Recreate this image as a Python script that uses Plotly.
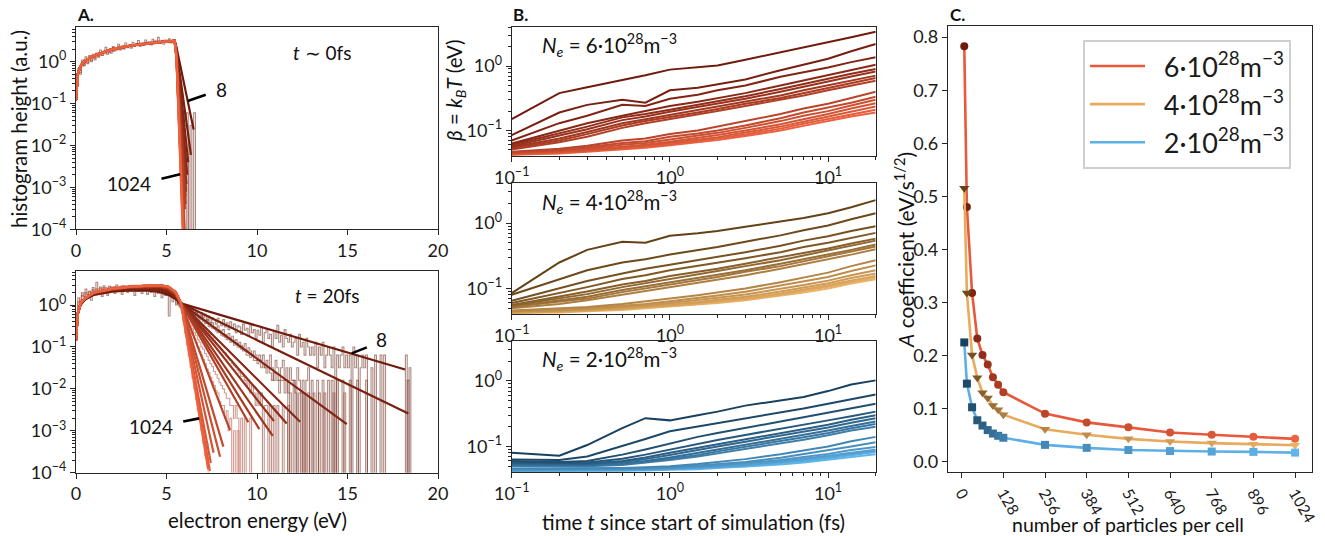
import plotly.graph_objects as go

FONT = "Lato"
W, H = 1325, 536

# ------------------------------------------------------------------ data
N_particles = [8, 16, 32, 48, 64, 80, 96, 112, 128, 256, 384, 512, 640, 768, 896, 1024]

# ---- Panel A : histograms (bin width 0.1 eV), values per bin, 0 = empty bin
BIN = 0.1
hist_t0_8 = [0.35, 0.7, 0.5, 1.1, 0.8, 1.3, 0.9, 1.4, 1.0, 1.5,
             1.1, 1.6, 1.3, 1.9, 1.4, 1.7, 2.2, 1.5, 1.9, 1.6,
             2.3, 1.8, 2.1, 2.6, 1.9, 2.4, 2.0, 2.8, 2.2, 2.5,
             2.1, 2.9, 2.4, 2.7, 3.2, 2.3, 2.8, 2.5, 3.3, 2.6,
             3.0, 2.5, 3.4, 2.7, 3.1, 3.8, 2.8, 3.2, 2.6, 3.3,
             3.0, 3.5, 2.8, 3.2, 2.6, 1.6, 0.7, 0.3, 0.12, 0.06,
             0.03, 0.06, 0.0, 0.03, 0.0, 0.06]
hist_t0_64 = [0.3, 0.6, 0.55, 0.9, 0.8, 1.05, 0.95, 1.2, 1.05, 1.3,
              1.2, 1.45, 1.3, 1.55, 1.4, 1.7, 1.55, 1.8, 1.65, 1.9,
              1.75, 2.0, 1.9, 2.15, 1.95, 2.3, 2.05, 2.35, 2.15, 2.5,
              2.25, 2.55, 2.35, 2.7, 2.4, 2.75, 2.5, 2.85, 2.55, 2.9,
              2.65, 3.0, 2.7, 3.1, 2.8, 3.15, 2.85, 3.25, 2.9, 3.2,
              3.0, 3.3, 3.0, 3.2, 2.9, 1.8, 0.45, 0.08, 0.012, 0.004,
              0.0, 0.004, 0.0]
hist_t0_1024 = [0.28, 0.5, 0.62, 0.78, 0.85, 0.97, 1.0, 1.12, 1.1, 1.22,
                1.25, 1.32, 1.36, 1.45, 1.48, 1.56, 1.6, 1.66, 1.7, 1.76,
                1.85, 1.86, 1.95, 2.0, 2.02, 2.1, 2.12, 2.2, 2.18, 2.3,
                2.3, 2.38, 2.36, 2.45, 2.5, 2.48, 2.56, 2.6, 2.62, 2.7,
                2.72, 2.75, 2.8, 2.85, 2.82, 2.9, 2.95, 2.92, 3.0, 3.02,
                3.05, 3.08, 3.1, 3.12, 3.1, 2.2, 0.5, 0.04, 0.002, 0.0003]

hist_t20_8 = [0.5, 1.5, 1.1, 2.0, 1.4, 2.4, 1.6, 2.1, 1.3, 2.6,
              1.8, 3.5, 2.0, 2.7, 1.6, 2.9, 2.2, 1.7, 2.8, 2.1,
              2.6, 1.9, 3.0, 2.2, 2.5, 1.8, 2.9, 2.3, 2.0, 2.7,
              2.2, 2.9, 1.7, 2.5, 2.1, 2.8, 1.9, 2.4, 2.6, 1.8,
              2.5, 2.0, 2.7, 1.6, 2.3, 1.9, 2.4, 1.5, 2.1, 1.7,
              1.9, 0.55, 1.6, 1.2, 1.5, 1.0, 1.3, 0.9, 1.1, 0.8,
              0.95, 0.7, 0.85, 0.6, 0.8, 0.55, 0.7, 0.6, 0.5, 0.65,
              0.5, 0.6, 0.42, 0.55, 0.38, 0.5, 0.45, 0.35, 0.48, 0.4,
              0.32, 0.45, 0.3, 0.38, 0.26, 0.4, 0.29, 0.35, 0.22, 0.32,
              0.3, 0.2, 0.35, 0.25, 0.28, 0.18, 0.32, 0.22, 0.26, 0.16,
              0.25, 0.19, 0.3, 0.13, 0.22, 0.26, 0.16, 0.2, 0.1, 0.24,
              0.16, 0.33, 0.13, 0.19, 0.1, 0.26, 0.16, 0.13, 0.2, 0.1,
              0.13, 0.16, 0.064, 0.2, 0.1, 0.13, 0.064, 0.16, 0.1, 0.064,
              0.1, 0.064, 0.13, 0.032, 0.1, 0.064, 0.13, 0.032, 0.064, 0.1,
              0.064, 0.032, 0.1, 0.0, 0.064, 0.032, 0.064, 0.1, 0.032, 0.064,
              0.032, 0.064, 0.0, 0.1, 0.032, 0.064, 0.0, 0.032, 0.064, 0.032,
              0.064, 0.0, 0.0, 0.032, 0.0, 0.064, 0.0, 0.0, 0.064, 0.0,
              0.064, 0.0, 0.0, 0.0, 0.0, 0.0, 0.0, 0.0, 0.0, 0.0,
              0.0, 0.0, 0.064, 0.0, 0.032]
TAIL_START = 5.5
hist_t20_16 = [1.3, 1.1, 1.2, 0.95, 1.0, 0.85, 0.9, 0.75, 0.8, 0.7,
               0.62, 0.66, 0.55, 0.5, 0.56, 0.45, 0.42, 0.46, 0.37, 0.35,
               0.38, 0.3, 0.29, 0.32, 0.25, 0.24, 0.26, 0.2, 0.19, 0.21,
               0.16, 0.18, 0.14, 0.15, 0.12, 0.13, 0.11, 0.1, 0.12, 0.08,
               0.096, 0.08, 0.064, 0.08, 0.064, 0.048, 0.064, 0.048, 0.064, 0.032,
               0.048, 0.032, 0.064, 0.032, 0.016, 0.048, 0.032, 0.016, 0.032, 0.048,
               0.016, 0.032, 0.0, 0.032, 0.016, 0.016, 0.0, 0.032, 0.016, 0.0,
               0.016, 0.0, 0.016, 0.032, 0.0, 0.016, 0.0, 0.0, 0.016, 0.0,
               0.0, 0.016, 0.0, 0.0, 0.016, 0.0, 0.016, 0.0, 0.0, 0.016,
               0.0, 0.0, 0.016, 0.0, 0.0, 0.0, 0.016, 0.0, 0.0, 0.0,
               0.016, 0.0, 0.0, 0.0, 0.0, 0.016, 0.0, 0.0, 0.0, 0.0,
               0.0, 0.0, 0.0, 0.0, 0.0, 0.0, 0.0, 0.0, 0.0, 0.0,
               0.0, 0.0, 0.0, 0.0, 0.0, 0.0, 0.0, 0.0, 0.016, 0.0]
hist_t20_32 = [1.25, 1.05, 1.1, 0.9, 0.95, 0.8, 0.78, 0.7, 0.66, 0.6,
               0.58, 0.52, 0.5, 0.44, 0.46, 0.4, 0.36, 0.37, 0.31, 0.3,
               0.28, 0.27, 0.24, 0.22, 0.23, 0.19, 0.18, 0.17, 0.15, 0.16,
               0.13, 0.14, 0.11, 0.12, 0.1, 0.096, 0.088, 0.08, 0.08, 0.064,
               0.064, 0.056, 0.064, 0.048, 0.048, 0.04, 0.048, 0.032, 0.04, 0.032,
               0.024, 0.032, 0.024, 0.016, 0.024, 0.024, 0.016, 0.008, 0.016, 0.016,
               0.008, 0.016, 0.008, 0.008, 0.0, 0.016, 0.008, 0.0, 0.008, 0.008,
               0.0, 0.008, 0.0, 0.008, 0.0, 0.0, 0.008, 0.0, 0.0, 0.008,
               0.0, 0.0, 0.008, 0.0, 0.0, 0.0, 0.0, 0.008, 0.0, 0.0,
               0.0, 0.0, 0.0, 0.008, 0.0, 0.0, 0.0, 0.0, 0.0, 0.0]
hist_t20_64 = [0.45, 1.2, 1.3, 1.7, 1.6, 2.0, 1.8, 2.1, 2.0, 2.3,
               2.1, 2.4, 2.2, 2.5, 2.3, 2.6, 2.35, 2.55, 2.4, 2.7,
               2.45, 2.75, 2.5, 2.7, 2.55, 2.85, 2.6, 2.8, 2.5, 2.9,
               2.6, 2.85, 2.55, 2.9, 2.65, 2.8, 2.6, 2.95, 2.7, 2.85,
               2.6, 2.9, 2.7, 2.8, 2.55, 2.85, 2.6, 2.7, 2.4, 2.5,
               2.2, 2.3, 1.9, 1.8, 1.5, 1.3, 1.1, 0.95, 0.9, 0.85,
               0.8, 0.7, 0.65, 0.55, 0.5, 0.45, 0.42, 0.36, 0.33, 0.3,
               0.27, 0.24, 0.22, 0.2, 0.17, 0.16, 0.14, 0.12, 0.11, 0.1,
               0.088, 0.076, 0.072, 0.06, 0.052, 0.048, 0.04, 0.036, 0.032, 0.028,
               0.024, 0.02, 0.02, 0.016, 0.012, 0.016, 0.008, 0.012, 0.008, 0.004,
               0.008, 0.004, 0.008, 0.0, 0.004, 0.004, 0.0, 0.004, 0.0, 0.004,
               0.0, 0.004, 0.0, 0.0, 0.004, 0.0, 0.0, 0.004, 0.0, 0.0]
hist_t20_128 = [1.45, 1.2, 1.0, 0.84, 0.7, 0.58, 0.48, 0.4, 0.33, 0.27,
                0.22, 0.19, 0.15, 0.13, 0.1, 0.088, 0.07, 0.06, 0.048, 0.04,
                0.034, 0.026, 0.022, 0.018, 0.014, 0.012, 0.01, 0.008, 0.006, 0.006,
                0.004, 0.004, 0.002, 0.004, 0.002, 0.0, 0.002, 0.0, 0.002, 0.0,
                0.0, 0.002, 0.0, 0.0, 0.0]
hist_t20_256 = [1.6, 1.35, 1.1, 0.85, 0.68, 0.52, 0.42, 0.32, 0.26, 0.2,
                0.16, 0.125, 0.1, 0.078, 0.064, 0.05, 0.04, 0.03, 0.025, 0.019,
                0.015, 0.012, 0.009, 0.008, 0.005, 0.004, 0.004, 0.002, 0.003, 0.001,
                0.002, 0.0, 0.001, 0.0, 0.001]
hist_t20_1024 = [0.4, 1.0, 1.35, 1.6, 1.8, 1.95, 2.05, 2.15, 2.2, 2.3,
                 2.32, 2.4, 2.42, 2.5, 2.5, 2.56, 2.6, 2.62, 2.66, 2.7,
                 2.7, 2.75, 2.76, 2.8, 2.8, 2.85, 2.86, 2.9, 2.9, 2.93,
                 2.94, 2.95, 2.98, 3.0, 3.0, 3.02, 3.0, 3.04, 3.02, 3.05,
                 3.03, 3.05, 3.02, 3.04, 3.0, 2.98, 2.95, 2.9, 2.85, 2.75,
                 2.7, 2.6, 2.5, 2.35, 2.2, 2.0, 1.7, 1.3, 0.72, 0.39,
                 0.21, 0.11, 0.06, 0.033, 0.018, 0.01, 0.0055, 0.003, 0.0018, 0.001,
                 0.0005, 0.00025, 0.0005, 0.0, 0.0]

# ---- Panel A : fitted distributions
E_fit_t0_body = [0, 0.1, 0.25, 0.5, 1, 2, 3, 4, 5, 5.45]
fit_t0_body = [0.12, 0.5, 0.8, 1.05, 1.4, 2.0, 2.4, 2.75, 3.05, 3.15]
fit_t0_tail_E = [[5.55, 6.50], [5.55, 6.35], [5.55, 6.20], [5.55, 6.15], [5.55, 6.10],
                 [5.55, 6.08], [5.55, 6.05], [5.55, 6.05], [5.55, 6.02], [5.55, 6.00],
                 [5.55, 5.97], [5.55, 5.95], [5.55, 5.94], [5.55, 5.93], [5.55, 5.92],
                 [5.55, 5.90]]
fit_t0_tail_f = [[2.2, 0.024], [2.0, 0.006], [1.9, 0.004], [1.8, 0.002], [1.7, 0.0012],
                 [1.65, 0.0008], [1.6, 0.0006], [1.55, 0.0004], [1.5, 0.0003], [1.4, 0.00009],
                 [1.35, 0.00008], [1.3, 0.00008], [1.28, 0.00008], [1.25, 0.00008], [1.22, 0.00008],
                 [1.2, 0.00008]]

E_fit_t20_body = [0, 0.1, 0.25, 0.5, 1, 2, 3, 4, 4.6, 5.1, 5.5, 5.8]
fit_t20_body = [
    [0.14, 0.60, 1.00, 1.35, 1.75, 2.10, 2.25, 2.20, 2.05, 1.75, 1.40, 1.10],
    [0.14, 0.61, 1.03, 1.38, 1.82, 2.20, 2.40, 2.40, 2.30, 1.95, 1.50, 1.10],
    [0.14, 0.62, 1.05, 1.40, 1.88, 2.28, 2.52, 2.55, 2.48, 2.15, 1.60, 1.10],
    [0.145, 0.63, 1.06, 1.42, 1.90, 2.32, 2.58, 2.65, 2.60, 2.28, 1.68, 1.10],
    [0.145, 0.63, 1.07, 1.43, 1.92, 2.35, 2.62, 2.70, 2.68, 2.36, 1.74, 1.10],
    [0.145, 0.64, 1.08, 1.43, 1.93, 2.37, 2.65, 2.75, 2.73, 2.42, 1.78, 1.10],
    [0.145, 0.64, 1.08, 1.44, 1.94, 2.38, 2.67, 2.78, 2.77, 2.47, 1.82, 1.10],
    [0.145, 0.64, 1.09, 1.44, 1.95, 2.39, 2.68, 2.80, 2.80, 2.51, 1.85, 1.10],
    [0.145, 0.64, 1.09, 1.44, 1.95, 2.40, 2.69, 2.82, 2.83, 2.55, 1.88, 1.10],
    [0.146, 0.65, 1.10, 1.45, 1.98, 2.43, 2.72, 2.88, 2.92, 2.65, 1.97, 1.10],
    [0.146, 0.65, 1.10, 1.45, 1.99, 2.44, 2.73, 2.91, 2.95, 2.69, 2.01, 1.10],
    [0.146, 0.65, 1.10, 1.45, 1.99, 2.45, 2.74, 2.92, 2.97, 2.71, 2.03, 1.10],
    [0.146, 0.65, 1.10, 1.45, 2.00, 2.45, 2.75, 2.93, 2.98, 2.73, 2.04, 1.10],
    [0.146, 0.65, 1.10, 1.45, 2.00, 2.45, 2.75, 2.94, 2.99, 2.74, 2.05, 1.10],
    [0.146, 0.65, 1.10, 1.45, 2.00, 2.45, 2.75, 2.95, 3.00, 2.75, 2.05, 1.10],
    [0.146, 0.65, 1.10, 1.45, 2.00, 2.45, 2.75, 2.95, 3.00, 2.75, 2.05, 1.10],
]
fit_t20_end_E = [18.18, 18.36, 14.96, 12.38, 11.64, 10.94, 10.87, 10.13, 9.52,
                 8.51, 8.14, 7.96, 7.60, 7.45, 7.40, 7.30]
fit_t20_end_f = [0.029, 0.0026, 0.00145, 0.00164, 0.0015, 0.0017, 0.00076, 0.0011, 0.0016,
                 0.00104, 0.00042, 0.00024, 0.0003, 0.00017, 0.00011, 0.00012]

# ---- Panel B : temperature vs time
t_fs = [0.1, 0.2, 0.3, 0.5, 0.7, 1, 1.5, 2, 3, 5, 7, 10, 14, 20]
beta_6e28 = [
    [0.150, 0.380, 0.470, 0.600, 0.720, 0.880, 0.950, 1.020, 1.250, 1.620, 1.950, 2.350, 2.800, 3.400],
    [0.085, 0.190, 0.250, 0.300, 0.270, 0.420, 0.460, 0.520, 0.620, 0.860, 1.050, 1.300, 1.700, 2.200],
    [0.070, 0.130, 0.170, 0.250, 0.240, 0.310, 0.360, 0.420, 0.500, 0.680, 0.800, 0.950, 1.150, 1.370],
    [0.063, 0.100, 0.130, 0.170, 0.200, 0.240, 0.280, 0.320, 0.380, 0.500, 0.600, 0.720, 0.870, 1.050],
    [0.060, 0.090, 0.115, 0.160, 0.180, 0.210, 0.250, 0.290, 0.340, 0.440, 0.530, 0.630, 0.760, 0.900],
    [0.057, 0.085, 0.105, 0.145, 0.165, 0.195, 0.230, 0.260, 0.310, 0.400, 0.480, 0.570, 0.690, 0.820],
    [0.055, 0.075, 0.095, 0.130, 0.150, 0.175, 0.205, 0.230, 0.280, 0.350, 0.420, 0.500, 0.600, 0.710],
    [0.053, 0.070, 0.088, 0.120, 0.140, 0.160, 0.190, 0.215, 0.260, 0.320, 0.380, 0.460, 0.550, 0.650],
    [0.051, 0.066, 0.080, 0.110, 0.130, 0.150, 0.175, 0.200, 0.240, 0.300, 0.350, 0.420, 0.500, 0.590],
    [0.047, 0.052, 0.058, 0.070, 0.075, 0.088, 0.100, 0.115, 0.140, 0.180, 0.220, 0.260, 0.320, 0.400],
    [0.046, 0.050, 0.055, 0.064, 0.068, 0.080, 0.090, 0.100, 0.120, 0.155, 0.190, 0.225, 0.270, 0.335],
    [0.045, 0.048, 0.052, 0.060, 0.064, 0.072, 0.082, 0.092, 0.110, 0.140, 0.170, 0.200, 0.245, 0.300],
    [0.044, 0.047, 0.050, 0.056, 0.060, 0.067, 0.076, 0.085, 0.100, 0.125, 0.150, 0.180, 0.220, 0.265],
    [0.043, 0.046, 0.049, 0.054, 0.058, 0.064, 0.072, 0.079, 0.093, 0.115, 0.137, 0.165, 0.200, 0.235],
    [0.043, 0.045, 0.048, 0.052, 0.056, 0.061, 0.068, 0.075, 0.087, 0.107, 0.127, 0.150, 0.180, 0.210],
    [0.042, 0.044, 0.047, 0.051, 0.054, 0.059, 0.065, 0.071, 0.082, 0.100, 0.118, 0.140, 0.165, 0.190],
]
beta_4e28 = [
    [0.085, 0.250, 0.390, 0.520, 0.500, 0.640, 0.700, 0.760, 0.880, 1.050, 1.200, 1.420, 1.750, 2.250],
    [0.080, 0.140, 0.190, 0.250, 0.280, 0.330, 0.380, 0.430, 0.520, 0.650, 0.780, 0.920, 1.150, 1.420],
    [0.065, 0.100, 0.130, 0.170, 0.200, 0.230, 0.270, 0.300, 0.360, 0.450, 0.540, 0.630, 0.760, 0.900],
    [0.060, 0.085, 0.105, 0.140, 0.160, 0.190, 0.220, 0.250, 0.290, 0.360, 0.430, 0.500, 0.600, 0.710],
    [0.056, 0.075, 0.090, 0.115, 0.130, 0.155, 0.180, 0.200, 0.240, 0.300, 0.350, 0.410, 0.490, 0.580],
    [0.055, 0.070, 0.082, 0.105, 0.120, 0.140, 0.165, 0.185, 0.220, 0.270, 0.320, 0.380, 0.450, 0.540],
    [0.053, 0.065, 0.075, 0.095, 0.108, 0.125, 0.145, 0.165, 0.190, 0.240, 0.280, 0.330, 0.390, 0.470],
    [0.052, 0.062, 0.070, 0.088, 0.100, 0.115, 0.135, 0.150, 0.180, 0.220, 0.260, 0.310, 0.370, 0.440],
    [0.050, 0.058, 0.066, 0.080, 0.092, 0.105, 0.122, 0.138, 0.160, 0.200, 0.235, 0.280, 0.330, 0.400],
    [0.046, 0.049, 0.052, 0.058, 0.063, 0.070, 0.079, 0.088, 0.100, 0.125, 0.148, 0.175, 0.220, 0.270],
    [0.045, 0.047, 0.050, 0.054, 0.058, 0.064, 0.071, 0.078, 0.089, 0.110, 0.128, 0.150, 0.185, 0.226],
    [0.044, 0.046, 0.048, 0.052, 0.055, 0.060, 0.066, 0.072, 0.081, 0.098, 0.113, 0.132, 0.160, 0.190],
    [0.043, 0.045, 0.047, 0.050, 0.053, 0.057, 0.062, 0.067, 0.075, 0.090, 0.103, 0.120, 0.145, 0.170],
    [0.043, 0.044, 0.046, 0.049, 0.052, 0.055, 0.060, 0.064, 0.071, 0.084, 0.096, 0.112, 0.133, 0.156],
    [0.042, 0.044, 0.046, 0.048, 0.051, 0.054, 0.058, 0.062, 0.068, 0.080, 0.091, 0.106, 0.126, 0.147],
    [0.042, 0.043, 0.045, 0.047, 0.050, 0.053, 0.056, 0.060, 0.066, 0.077, 0.087, 0.100, 0.119, 0.139],
]
beta_2e28 = [
    [0.080, 0.072, 0.105, 0.190, 0.270, 0.250, 0.300, 0.340, 0.420, 0.500, 0.570, 0.700, 0.880, 1.020],
    [0.063, 0.062, 0.070, 0.100, 0.130, 0.170, 0.200, 0.230, 0.270, 0.330, 0.380, 0.450, 0.530, 0.620],
    [0.060, 0.058, 0.060, 0.075, 0.090, 0.110, 0.140, 0.160, 0.190, 0.240, 0.280, 0.330, 0.390, 0.450],
    [0.058, 0.056, 0.057, 0.065, 0.075, 0.090, 0.110, 0.125, 0.150, 0.185, 0.215, 0.250, 0.290, 0.340],
    [0.056, 0.055, 0.055, 0.060, 0.068, 0.080, 0.095, 0.110, 0.130, 0.160, 0.185, 0.215, 0.255, 0.300],
    [0.055, 0.054, 0.054, 0.058, 0.064, 0.074, 0.087, 0.100, 0.118, 0.145, 0.168, 0.195, 0.230, 0.270],
    [0.053, 0.052, 0.052, 0.055, 0.060, 0.068, 0.079, 0.090, 0.106, 0.130, 0.150, 0.175, 0.205, 0.240],
    [0.052, 0.051, 0.051, 0.054, 0.058, 0.065, 0.074, 0.084, 0.098, 0.120, 0.138, 0.160, 0.190, 0.220],
    [0.050, 0.050, 0.050, 0.052, 0.056, 0.062, 0.070, 0.078, 0.091, 0.110, 0.127, 0.148, 0.175, 0.200],
    [0.046, 0.046, 0.046, 0.047, 0.048, 0.050, 0.054, 0.058, 0.064, 0.076, 0.087, 0.100, 0.120, 0.140],
    [0.045, 0.045, 0.045, 0.046, 0.047, 0.048, 0.051, 0.054, 0.058, 0.067, 0.076, 0.087, 0.100, 0.116],
    [0.044, 0.044, 0.044, 0.045, 0.046, 0.047, 0.049, 0.051, 0.055, 0.062, 0.069, 0.077, 0.088, 0.098],
    [0.043, 0.043, 0.043, 0.044, 0.045, 0.046, 0.048, 0.050, 0.053, 0.059, 0.065, 0.072, 0.081, 0.089],
    [0.043, 0.043, 0.043, 0.044, 0.044, 0.045, 0.047, 0.049, 0.052, 0.057, 0.062, 0.069, 0.077, 0.085],
    [0.042, 0.042, 0.042, 0.043, 0.044, 0.045, 0.046, 0.048, 0.050, 0.055, 0.060, 0.066, 0.074, 0.082],
    [0.042, 0.042, 0.042, 0.043, 0.043, 0.044, 0.045, 0.047, 0.049, 0.053, 0.057, 0.063, 0.070, 0.076],
]

# ---- Panel C : A coefficient
A_6e28 = [0.783, 0.480, 0.318, 0.232, 0.201, 0.183, 0.159, 0.145, 0.131, 0.0905, 0.074, 0.0646, 0.055, 0.0506, 0.0468, 0.043]
A_4e28 = [0.515, 0.318, 0.201, 0.158, 0.130, 0.120, 0.106, 0.098, 0.0886, 0.061, 0.0506, 0.043, 0.038, 0.035, 0.033, 0.031]
A_2e28 = [0.2247, 0.147, 0.1025, 0.078, 0.068, 0.0595, 0.053, 0.0487, 0.045, 0.0316, 0.026, 0.022, 0.020, 0.019, 0.0184, 0.017]

density_labels = ["6·10<sup>28</sup>m<sup>−3</sup>", "4·10<sup>28</sup>m<sup>−3</sup>", "2·10<sup>28</sup>m<sup>−3</sup>"]

# ------------------------------------------------------------------ styles
def gradient(c0, c1, n, alpha=None):
    out = []
    for i in range(n):
        t = i / (n - 1)
        r, g, b = [round(c0[k] + (c1[k] - c0[k]) * t) for k in range(3)]
        out.append(f"rgba({r},{g},{b},{alpha})" if alpha is not None else f"rgb({r},{g},{b})")
    return out

RED0, RED1 = (112, 26, 12), (236, 98, 62)
ORA0, ORA1 = (100, 66, 22), (236, 178, 102)
BLU0, BLU1 = (24, 64, 96), (96, 182, 236)
reds = gradient(RED0, RED1, 16)
oranges = gradient(ORA0, ORA1, 16)
blues = gradient(BLU0, BLU1, 16)
hist_cols = gradient((105, 40, 28), (232, 110, 80), 16, 0.55)

LINE_RED, LINE_ORA, LINE_BLU = "rgb(232,88,58)", "rgb(232,170,92)", "rgb(92,176,230)"
FLOOR = 1e-8
AXC = "#262626"
TICK = 18
TITLE = 20.5


def dom_x(a, b):
    return [a / W, b / W]


def dom_y(top, bottom):
    return [1 - bottom / H, 1 - top / H]


def log_minor(lo_exp, hi_exp, vmax):
    vals = []
    for e in range(lo_exp, hi_exp + 1):
        for m in range(2, 10):
            v = m * 10 ** e
            if v <= vmax:
                vals.append(v)
    return vals


def base_axis(**kw):
    d = dict(showline=True, linecolor=AXC, linewidth=1.2, mirror=True, automargin=False,
             ticks="outside", ticklen=5, tickwidth=1.2, tickcolor=AXC,
             showgrid=False, zeroline=False,
             tickfont=dict(family=FONT, size=TICK, color="#1a1a1a"))
    d.update(kw)
    return d


def minor(vals):
    return dict(ticks="outside", ticklen=2.5, tickwidth=0.9, tickcolor=AXC,
                tickmode="array", tickvals=vals, showgrid=False)


def sup10(e):
    s = str(e).replace("-", "−")
    return f"10<sup>{s}</sup>"


fig = go.Figure()


def step_hist(vals, start, color, xa, ya):
    xs = [start + i * BIN for i in range(len(vals) + 1)]
    ys = [v if v > 0 else FLOOR for v in vals] + [FLOOR]
    fig.add_trace(go.Scatter(x=xs, y=ys, mode="lines", line=dict(color=color, width=1.1, shape="hv"),
                             xaxis=xa, yaxis=ya, showlegend=False, hoverinfo="skip"))


# ---- Panel A top (t ~ 0)
step_hist(hist_t0_8, 0.0, hist_cols[0], "x", "y")
step_hist(hist_t0_64, 0.0, hist_cols[5], "x", "y")
step_hist(hist_t0_1024, 0.0, hist_cols[15], "x", "y")
for i in range(16):
    xs = E_fit_t0_body + fit_t0_tail_E[i]
    ys = fit_t0_body + fit_t0_tail_f[i]
    fig.add_trace(go.Scatter(x=xs, y=ys, mode="lines", line=dict(color=reds[i], width=2.2),
                             xaxis="x", yaxis="y", showlegend=False))

# ---- Panel A bottom (t = 20 fs)
step_hist(hist_t20_8, 0.0, hist_cols[0], "x2", "y2")
step_hist(hist_t20_16, TAIL_START, hist_cols[1], "x2", "y2")
step_hist(hist_t20_32, TAIL_START, hist_cols[2], "x2", "y2")
step_hist(hist_t20_64, 0.0, hist_cols[4], "x2", "y2")
step_hist(hist_t20_128, TAIL_START, hist_cols[8], "x2", "y2")
step_hist(hist_t20_256, TAIL_START, hist_cols[9], "x2", "y2")
step_hist(hist_t20_1024, 0.0, hist_cols[15], "x2", "y2")
for i in range(16):
    xs = E_fit_t20_body + [fit_t20_end_E[i]]
    ys = fit_t20_body[i] + [fit_t20_end_f[i]]
    fig.add_trace(go.Scatter(x=xs, y=ys, mode="lines", line=dict(color=reds[i], width=2.2),
                             xaxis="x2", yaxis="y2", showlegend=False))

# ---- Panel B
for data, cols, xa, ya in [(beta_6e28, reds, "x3", "y3"), (beta_4e28, oranges, "x4", "y4"),
                           (beta_2e28, blues, "x5", "y5")]:
    for i in range(15, -1, -1):
        fig.add_trace(go.Scatter(x=t_fs, y=data[i], mode="lines", line=dict(color=cols[i], width=2.0),
                                 xaxis=xa, yaxis=ya, showlegend=False))

# ---- Panel C
for vals, lc, mcols, sym, msz, name in [
        (A_6e28, LINE_RED, reds, "circle", 8, density_labels[0]),
        (A_4e28, LINE_ORA, oranges, "triangle-down", 9, density_labels[1]),
        (A_2e28, LINE_BLU, blues, "square", 8, density_labels[2])]:
    fig.add_trace(go.Scatter(x=N_particles, y=vals, mode="lines", line=dict(color=lc, width=2.6),
                             name="\u00a0\u00a0" + name, xaxis="x6", yaxis="y6", showlegend=True))
    fig.add_trace(go.Scatter(x=N_particles, y=vals, mode="markers",
                             marker=dict(color=mcols, symbol=sym, size=msz, line=dict(width=0)),
                             xaxis="x6", yaxis="y6", showlegend=False))

# ------------------------------------------------------------------ axes
A_x = dict(range=[0, 20], tickvals=[0, 5, 10, 15, 20])
A_y = dict(type="log", range=[-4, 0.835], tickmode="array",
           tickvals=[1e-4, 1e-3, 1e-2, 1e-1, 1], ticktext=[sup10(e) for e in [-4, -3, -2, -1, 0]],
           minor=minor(log_minor(-4, 0, 6.8)))
B_x = dict(type="log", range=[-1, 1.301], tickmode="array", tickvals=[0.1, 1, 10],
           ticktext=[sup10(-1), sup10(0), sup10(1)], minor=minor(log_minor(-1, 1, 20)))
B_y = dict(type="log", range=[-1.395, 0.61], tickmode="array", tickvals=[0.1, 1],
           ticktext=[sup10(-1), sup10(0)], minor=minor([v for v in log_minor(-2, 0, 4.1) if v >= 0.04]))

fig.update_layout(
    width=W, height=H, margin=dict(l=0, r=0, t=0, b=0, autoexpand=False),
    paper_bgcolor="white", plot_bgcolor="white",
    font=dict(family=FONT, color="#1a1a1a"),
    xaxis=base_axis(domain=dom_x(76, 438), anchor="y", **A_x),
    yaxis=base_axis(domain=dom_y(26.7, 229.3), anchor="x", **A_y),
    xaxis2=base_axis(domain=dom_x(76, 438), anchor="y2", **A_x),
    yaxis2=base_axis(domain=dom_y(270.7, 472.7), anchor="x2", **dict(A_y, range=[-4, 0.82])),
    xaxis3=base_axis(domain=dom_x(511.7, 875.7), anchor="y3", **B_x),
    yaxis3=base_axis(domain=dom_y(26.7, 156), anchor="x3", **B_y),
    xaxis4=base_axis(domain=dom_x(511.7, 875.7), anchor="y4", **B_x),
    yaxis4=base_axis(domain=dom_y(183.3, 314.3), anchor="x4", **B_y),
    xaxis5=base_axis(domain=dom_x(511.7, 875.7), anchor="y5", **B_x),
    yaxis5=base_axis(domain=dom_y(341, 472.3), anchor="x5", **B_y),
    xaxis6=base_axis(domain=dom_x(948, 1312), anchor="y6", range=[-42, 1076],
                     tickvals=[0, 128, 256, 384, 512, 640, 768, 896, 1024], tickangle=60,
                     tickfont=dict(family=FONT, size=15.5, color="#1a1a1a")),
    yaxis6=base_axis(domain=dom_y(26, 472), anchor="x6", range=[-0.0195, 0.821],
                     tick0=0, dtick=0.1, tickformat=".1f"),
    legend=dict(x=1083 / W, y=1 - 40 / H, xanchor="left", yanchor="top",
                bgcolor="white", bordercolor="#cfcfcf", borderwidth=2,
                font=dict(family=FONT, size=27, color="#1a1a1a"), itemwidth=55,
                tracegroupgap=0),
)

# ------------------------------------------------------------------ text
ann = []


def paper_text(text, x, y, size=TITLE, angle=0, xanchor="center", yanchor="middle", bold=False):
    ann.append(dict(text=f"<b>{text}</b>" if bold else text, x=x / W, y=1 - y / H, xref="paper", yref="paper",
                    showarrow=False, textangle=angle, xanchor=xanchor, yanchor=yanchor,
                    font=dict(family=FONT, size=size, color="#111")))


paper_text("A.", 75, 14, size=17, xanchor="left", bold=True)
paper_text("B.", 511, 14, size=17, xanchor="left", bold=True)
paper_text("C.", 948, 14, size=17, xanchor="left", bold=True)
paper_text("histogram height (a.u.)", 19, 129, angle=-90)
paper_text("electron energy (eV)", 257, 520)
paper_text("<i>β</i> = <i>k</i><sub><i>B</i></sub><i>T</i> (eV)", 456, 90, angle=-90)
paper_text("time <i>t</i> since start of simulation (fs)", 693, 522)
paper_text("number of particles per cell", 1128, 524, size=19.5)
paper_text("<i>A</i> coefficient (eV/s<sup>1/2</sup>)", 904, 250, size=21, angle=-90)

for txt, x, ly, xa, ya in [("<i>t</i> ∼ 0fs", 13.58, 0.215, "x", "y"),
                           ("<i>t</i> = 20fs", 13.85, 0.239, "x2", "y2"),
                           ("8", 8.05, -0.659, "x", "y"),
                           ("1024", 2.95, -2.90, "x", "y"),
                           ("8", 16.89, -0.819, "x2", "y2"),
                           ("1024", 4.13, -2.888, "x2", "y2")]:
    ann.append(dict(text=txt, x=x, y=ly, xref=xa, yref=ya, showarrow=False,
                    font=dict(family=FONT, size=19, color="#111")))

for lab, ya in [(density_labels[0], "y3"), (density_labels[1], "y4"), (density_labels[2], "y5")]:
    xa = "x" + ya[1:]
    ann.append(dict(text="<i>N</i><sub><i>e</i></sub> = " + lab, x=0.077, y=0.86, xref=xa + " domain",
                    yref=ya + " domain", showarrow=False, xanchor="left", yanchor="middle",
                    font=dict(family=FONT, size=20.5, color="#111")))

# pointer lines as arrowless annotations (tail -> tip), log10 on log axes
for tx, ty, hx, hy, xa, ya in [(7.25, -0.778, 6.17, -0.94, "x", "y"),
                               (4.64, -2.80, 5.75, -2.687, "x", "y"),
                               (16.15, -0.995, 15.23, -1.153, "x2", "y2"),
                               (5.84, -2.785, 6.81, -2.704, "x2", "y2")]:
    ann.append(dict(x=hx, y=hy, ax=tx, ay=ty, xref=xa, yref=ya, axref=xa, ayref=ya,
                    text="", showarrow=True, arrowhead=0, arrowwidth=2.6, arrowcolor="black",
                    standoff=0, startstandoff=0))

fig.update_layout(annotations=ann)

fig.write_html("out.html")
